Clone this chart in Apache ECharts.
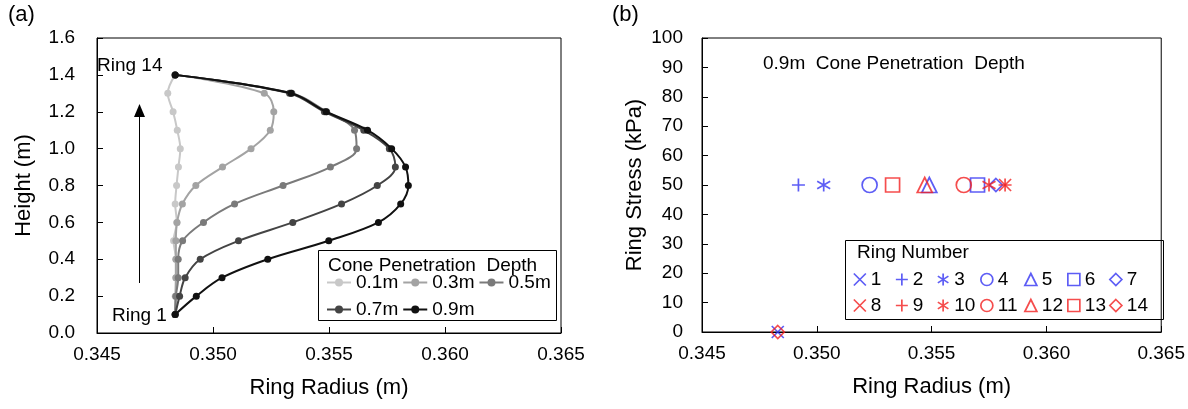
<!DOCTYPE html>
<html>
<head>
<meta charset="utf-8">
<script src="https://cdn.jsdelivr.net/npm/echarts@6/dist/echarts.min.js"></script>
<style>
  html, body { margin: 0; padding: 0; background: #fff; }
  #chart { width: 1188px; height: 409px; }
</style>
</head>
<body>
<div id="chart"></div>
<script>
const chart = echarts.init(document.getElementById('chart'));
const FONT = 'Liberation Sans, Arial, Helvetica, sans-serif';

// (a) ring height vs radius, one curve per cone penetration depth
const HEIGHTS = [0.1, 0.2, 0.3, 0.4, 0.5, 0.6, 0.7, 0.8, 0.9, 1.0, 1.1, 1.2, 1.3, 1.4];
const DEPTHS = ['0.1m', '0.3m', '0.5m', '0.7m', '0.9m'];
const R_01 = [0.34837, 0.34837, 0.3484, 0.3484, 0.3483, 0.34844, 0.34837, 0.34843, 0.34851, 0.34859, 0.34846, 0.34828, 0.34805, 0.34837];
const R_03 = [0.34837, 0.3484, 0.3484, 0.3484, 0.3484, 0.34845, 0.34868, 0.34926, 0.35041, 0.35164, 0.35247, 0.35262, 0.35221, 0.34837];
const R_05 = [0.34837, 0.3484, 0.3485, 0.3485, 0.34869, 0.34959, 0.35093, 0.35302, 0.35506, 0.35619, 0.3561, 0.3549, 0.3534, 0.34837];
const R_07 = [0.34837, 0.34856, 0.3488, 0.34945, 0.3511, 0.35344, 0.35554, 0.35708, 0.35786, 0.3576, 0.3565, 0.3548, 0.3533, 0.34837];
const R_09 = [0.34837, 0.34928, 0.35039, 0.35236, 0.35499, 0.35713, 0.35809, 0.35842, 0.3583, 0.3577, 0.35666, 0.35488, 0.35337, 0.34837];
const RADII = [R_01, R_03, R_05, R_07, R_09];
const GRAYS = ['#c8c8c8', '#a3a3a3', '#7a7a7a', '#444444', '#111111'];

// (b) ring stress vs radius at 0.9m depth, one point per ring
const RINGS = ['1', '2', '3', '4', '5', '6', '7', '8', '9', '10', '11', '12', '13', '14'];
const RING_RADIUS = [0.3483, 0.3492, 0.3503, 0.3523, 0.3549, 0.3570, 0.3578, 0.3582, 0.3582, 0.3575, 0.3564, 0.3547, 0.3533, 0.3483];
const RING_STRESS = [0, 50, 50, 50, 50, 50, 50, 50, 50, 50, 50, 50, 50, 0];

const X_TICKS = { min: 0.345, max: 0.365, interval: 0.005 };

const SYM_X = 'path://M0,0L10,10M10,0L0,10';
const SYM_PLUS = 'path://M5,0L5,10M0,5L10,5';
const SYM_STAR = 'path://M5,0L5,10M0.6,2.2L9.4,7.8M0.6,7.8L9.4,2.2';
const SHAPES = [SYM_X, SYM_PLUS, SYM_STAR, 'circle', 'triangle', 'rect', 'diamond'];
const SIZES = [12, 13, 13, 15, 15, 14, 13];
const BLUE = '#3434f2';
const RED = '#f22020';
// x of each column of the ring legend
const RING_LEGEND_X = [853, 895, 937, 980, 1024, 1067, 1109];

function valueAxis(grid, extra) {
  return Object.assign({
    type: 'value', gridIndex: grid,
    axisLine: { show: true, lineStyle: { color: '#000', width: 1 } },
    axisTick: { show: true, inside: true, length: 6, lineStyle: { color: '#000' } },
    splitLine: { show: false },
    axisLabel: { color: '#000', fontSize: 19, fontFamily: FONT },
    nameLocation: 'middle',
    nameTextStyle: { color: '#000', fontSize: 22, fontFamily: FONT }
  }, extra);
}

const series = [];
DEPTHS.forEach((name, i) => {
  series.push({
    name, type: 'line', xAxisIndex: 0, yAxisIndex: 0,
    data: HEIGHTS.map((h, k) => [RADII[i][k], h]),
    smooth: 0.35, symbol: 'circle', symbolSize: 7,
    lineStyle: { color: GRAYS[i], width: 2 },
    itemStyle: { color: GRAYS[i] },
    z: 2 + i
  });
});
RINGS.forEach((name, i) => {
  const col = i < 7 ? BLUE : RED;
  series.push({
    name, type: 'scatter', xAxisIndex: 1, yAxisIndex: 1,
    data: [[RING_RADIUS[i], RING_STRESS[i]]],
    symbol: SHAPES[i % 7], symbolSize: SIZES[i % 7],
    itemStyle: { color: 'rgba(0,0,0,0)', borderColor: col, borderWidth: 1.7 }
  });
});

const legendText = { color: '#000', fontSize: 19, fontFamily: FONT };
const ringLegends = RINGS.map((name, i) => ({
  data: [name], left: RING_LEGEND_X[i % 7], top: i < 7 ? 270 : 296,
  itemWidth: 12, itemHeight: 12, padding: 0,
  textStyle: legendText, itemStyle: { borderWidth: 1.7 }
}));
const depthLegend = (data, top) => ({
  data, left: 326, top, orient: 'horizontal',
  itemWidth: 24, itemHeight: 10, itemGap: 4, padding: 0,
  textStyle: legendText
});

chart.setOption({
  animation: false,
  grid: [
    { left: 97, top: 38, width: 464, height: 295, show: true, borderColor: '#000', borderWidth: 1 },
    { left: 702, top: 38, width: 464, height: 294, show: true, borderColor: '#000', borderWidth: 1 }
  ],
  xAxis: [
    valueAxis(0, Object.assign({}, X_TICKS, { name: 'Ring Radius (m)', nameGap: 44,
      axisLabel: { color: '#000', fontSize: 19, fontFamily: FONT, margin: 12, formatter: v => v.toFixed(3) } })),
    valueAxis(1, Object.assign({}, X_TICKS, { name: 'Ring Radius (m)', nameGap: 44,
      axisLabel: { color: '#000', fontSize: 19, fontFamily: FONT, margin: 12, formatter: v => v.toFixed(3) } }))
  ],
  yAxis: [
    valueAxis(0, { min: 0, max: 1.6, interval: 0.2, name: 'Height (m)', nameGap: 62,
      axisLabel: { color: '#000', fontSize: 19, fontFamily: FONT, margin: 22, formatter: v => v.toFixed(1) } }),
    valueAxis(1, { min: 0, max: 100, interval: 10, name: 'Ring Stress (kPa)', nameGap: 56,
      axisLabel: { color: '#000', fontSize: 19, fontFamily: FONT, margin: 19 } })
  ],
  legend: [
    depthLegend(['0.1m', '0.3m', '0.5m'], 273),
    depthLegend(['0.7m', '0.9m'], 300)
  ].concat(ringLegends),
  graphic: [
    { type: 'text', left: 8, top: 4, style: { text: '(a)', fontSize: 22, fontFamily: FONT, fill: '#000' } },
    { type: 'text', left: 612, top: 4, style: { text: '(b)', fontSize: 22, fontFamily: FONT, fill: '#000' } },
    { type: 'text', left: 97, top: 56, style: { text: 'Ring 14', fontSize: 19, fontFamily: FONT, fill: '#000' } },
    { type: 'text', left: 112, top: 306, style: { text: 'Ring 1', fontSize: 19, fontFamily: FONT, fill: '#000' } },
    { type: 'line', shape: { x1: 139.5, y1: 283, x2: 139.5, y2: 114 }, style: { stroke: '#000', lineWidth: 1 } },
    { type: 'polygon', shape: { points: [[139.5, 104], [134, 117], [145, 117]] }, style: { fill: '#000' } },
    { type: 'rect', shape: { x: 318.5, y: 250.5, width: 238, height: 70 }, style: { fill: '#fff', stroke: '#000', lineWidth: 1 }, z: -1 },
    { type: 'text', left: 328, top: 256, style: { text: 'Cone Penetration  Depth', fontSize: 19, fontFamily: FONT, fill: '#000' } },
    { type: 'text', left: 763, top: 54, style: { text: '0.9m  Cone Penetration  Depth', fontSize: 19, fontFamily: FONT, fill: '#000' } },
    { type: 'rect', shape: { x: 845.5, y: 240.5, width: 318, height: 79 }, style: { fill: '#fff', stroke: '#000', lineWidth: 1 }, z: -1 },
    { type: 'text', left: 857, top: 243, style: { text: 'Ring Number', fontSize: 19, fontFamily: FONT, fill: '#000' } }
  ],
  series
});
window.addEventListener('resize', () => chart.resize());
</script>
</body>
</html>
